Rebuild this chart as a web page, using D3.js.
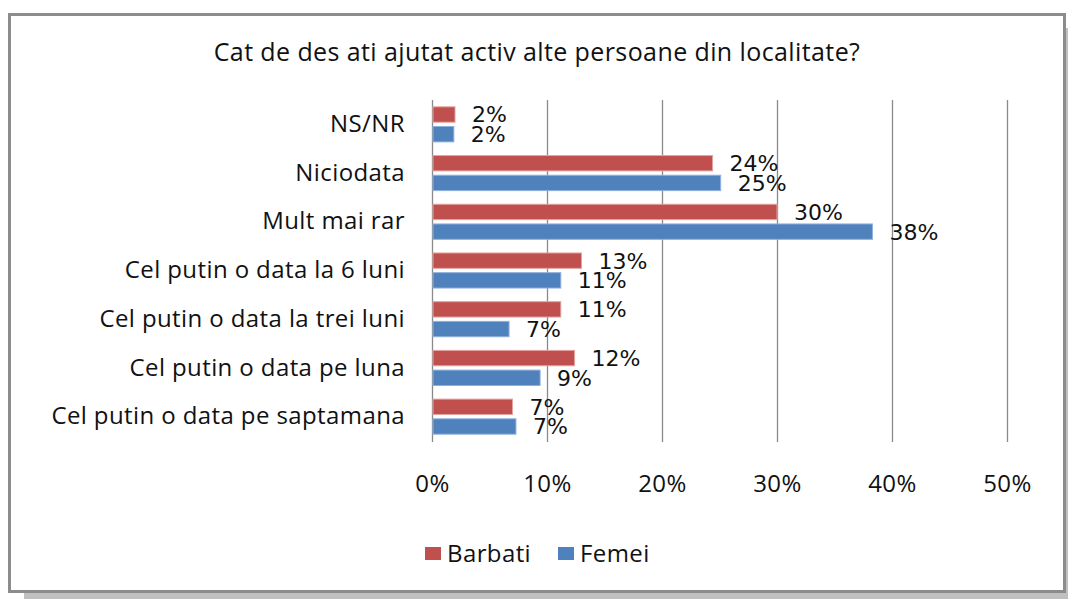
<!DOCTYPE html>
<meta charset="utf-8">
<style>
    body{ margin:0; background:#fff; }
    .cat{ font-family:"Open Sans", sans-serif; font-size:24px; letter-spacing:0.4px; fill:#111; }
    .title{ font-size:25px; }
    .lbl{ font-family:"DejaVu Sans", sans-serif; font-size:22px; fill:#111; }
</style>
<body>
<svg id="chart" width="1068" height="599"></svg>
</body>
<script src="https://d3js.org/d3.v7.min.js"></script>
<script>
// data (percent)
var categories = ["NS/NR", "Niciodata", "Mult mai rar", "Cel putin o data la 6 luni",
    "Cel putin o data la trei luni", "Cel putin o data pe luna", "Cel putin o data pe saptamana"];
var seriesNames = ["Barbati", "Femei"];
var barbati = [2.0, 24.4, 30.0, 13.0, 11.2, 12.4, 7.0];
var femei = [1.9, 25.1, 38.3, 11.2, 6.7, 9.4, 7.3];
var ticks = [0, 10, 20, 30, 40, 50];
var colors = ["#C0504D", "#4F81BD"];
var strokes = ["#e3a3a1", "#8fb0dc"];

var svg = d3.select("#chart");

// shadow + frame
svg.append("rect").attr("x", 24).attr("y", 28).attr("width", 1044).attr("height", 571)
    .attr("fill", "#c0c0c0");
svg.append("rect").attr("x", 9.5).attr("y", 14.5).attr("width", 1055).attr("height", 577)
    .attr("fill", "#fff").attr("stroke", "#8c8c8c").attr("stroke-width", 3);

svg.append("text").attr("class", "cat title")
    .attr("x", 537).attr("y", 52).attr("dy", "0.35em")
    .attr("text-anchor", "middle")
    .text("Cat de des ati ajutat activ alte persoane din localitate?");

var x = d3.scaleLinear().domain([0, 50]).range([432, 1007]);
var y0 = d3.scaleBand().domain(categories).range([100, 441])
    .paddingInner(0.28).paddingOuter(0.14);
var y1 = d3.scaleBand().domain(seriesNames).range([0, y0.bandwidth()]).paddingInner(0.22);

// gridlines
svg.append("g").selectAll("line")
    .data(ticks)
    .enter().append("line")
    .attr("x1", function(d) {return x(d) + 0.5;})
    .attr("x2", function(d) {return x(d) + 0.5;})
    .attr("y1", 100).attr("y2", 442)
    .attr("stroke", "#8a8a8a").attr("stroke-width", 1.3);

// x axis labels
var xAxis = svg.append("g")
    .attr("transform", "translate(0,484)")
    .call(d3.axisBottom(x).tickValues(ticks).tickSize(0).tickFormat(function(d) {return d + "%";}));
xAxis.select(".domain").remove();
xAxis.selectAll("text").attr("class", "cat").attr("dy", "0.35em").attr("y", 0)
    .attr("font-family", null).attr("font-size", null);

// category labels
var yAxis = svg.append("g")
    .attr("transform", "translate(405,0)")
    .call(d3.axisLeft(y0).tickSize(0).tickPadding(0));
yAxis.select(".domain").remove();
yAxis.selectAll("text").attr("class", "cat").attr("font-family", null).attr("font-size", null);

var rows = categories.map(function(c, i) {
    return {cat: c, values: [barbati[i], femei[i]]};
});

var groups = svg.append("g").selectAll("g")
    .data(rows)
    .enter().append("g")
    .attr("transform", function(d) {return "translate(0," + y0(d.cat) + ")";});

groups.selectAll("rect")
    .data(function(d) {return d.values.map(function(v, j) {return {s: j, v: v};});})
    .enter().append("rect")
    .attr("x", x(0) + 1)
    .attr("y", function(d) {return y1(seriesNames[d.s]);})
    .attr("width", function(d) {return x(d.v) - x(0) - 1;})
    .attr("height", y1.bandwidth())
    .attr("fill", function(d) {return colors[d.s];})
    .attr("stroke", function(d) {return strokes[d.s];})
    .attr("stroke-width", 1);

groups.selectAll("text")
    .data(function(d) {return d.values.map(function(v, j) {return {s: j, v: v};});})
    .enter().append("text")
    .attr("class", "lbl")
    .attr("x", function(d) {return x(d.v) + 17;})
    .attr("y", function(d) {return y1(seriesNames[d.s]) + y1.bandwidth() / 2;})
    .attr("dy", "0.36em")
    .text(function(d) {return Math.round(d.v) + "%";});

// legend
var legX = [425, 558];
var leg = svg.append("g").selectAll("g")
    .data(seriesNames)
    .enter().append("g")
    .attr("transform", function(d, i) {return "translate(" + legX[i] + ",547)";});
leg.append("rect").attr("width", 16).attr("height", 13)
    .attr("fill", function(d, i) {return colors[i];});
leg.append("text").attr("class", "cat")
    .attr("x", 22).attr("y", 6.5).attr("dy", "0.35em")
    .text(function(d) {return d;});
</script>
